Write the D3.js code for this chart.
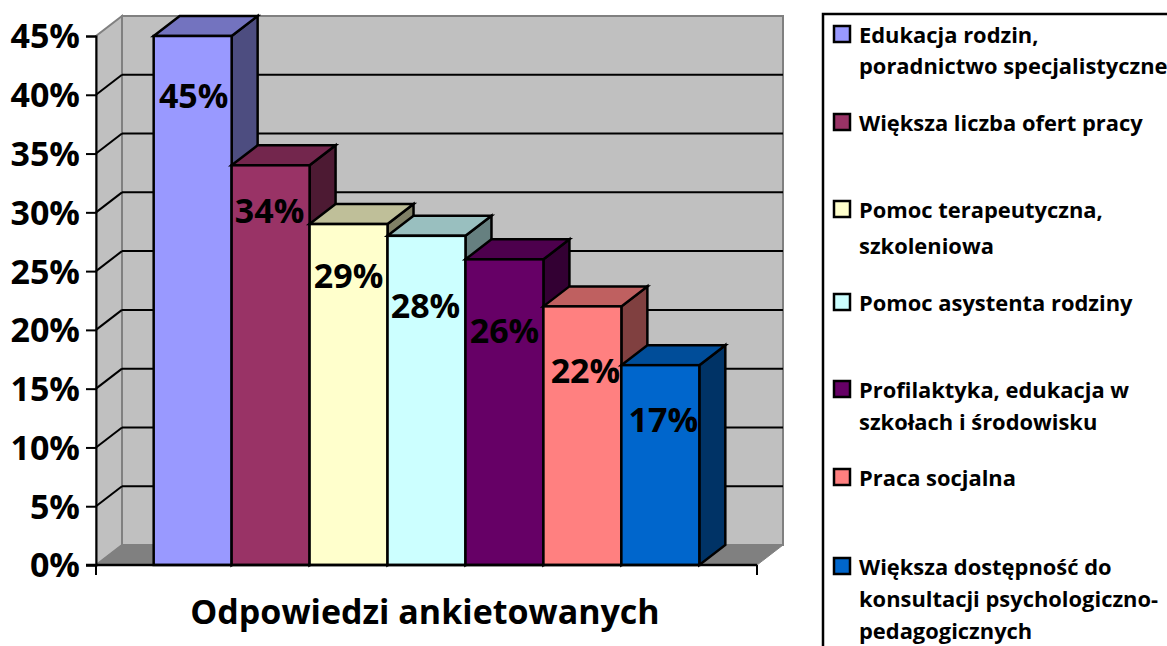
<!DOCTYPE html>
<html>
<head>
<meta charset="utf-8">
<script src="https://cdnjs.cloudflare.com/ajax/libs/d3/7.8.5/d3.min.js"></script>
<style>
html, body { margin: 0; padding: 0; background: #fff; overflow: hidden; }
text { font-family: "Open Sans", sans-serif; font-weight: 700; fill: #000; }
</style>
</head>
<body>
<div class="canvas"></div>
<script>
var categories = ["Edukacja rodzin, poradnictwo specjalistyczne", "Większa liczba ofert pracy", "Pomoc terapeutyczna, szkoleniowa", "Pomoc asystenta rodziny", "Profilaktyka, edukacja w szkołach i środowisku", "Praca socjalna", "Większa dostępność do konsultacji psychologiczno-pedagogicznych"];
var values = [45, 34, 29, 28, 26, 22, 17];
var yTicks = [0, 5, 10, 15, 20, 25, 30, 35, 40, 45];
var barColors = ["#9999FF", "#993366", "#FFFFCC", "#CCFFFF", "#660066", "#FF8080", "#0066CC"];
var legendLines = [
	["Edukacja rodzin,", "poradnictwo specjalistyczne"],
	["Większa liczba ofert pracy"],
	["Pomoc terapeutyczna,", "szkoleniowa"],
	["Pomoc asystenta rodziny"],
	["Profilaktyka, edukacja w", "szkołach i środowisku"],
	["Praca socjalna"],
	["Większa dostępność do", "konsultacji psychologiczno-", "pedagogicznych"]
];
var axisTitle = "Odpowiedzi ankietowanych";

// hand placement of the data labels, relative to bar top / bar centre
var labelDy = [59, 45, 51, 69, 71, 64, 54];
var labelDx = [1, -1, 0, -1, 0, 3, 3];
var legendY = [34, 122, 209, 302, 389, 477, 566];
var legendGap = [31, 0, 36, 0, 32, 0, 32];

var depthX = 26, depthY = 20;
var svg = d3.select(".canvas")
	.append("svg")
	.attr("width", 1167)
	.attr("height", 646)
	.style("display", "block");

var x = d3.scaleBand()
	.domain(categories)
	.range([96, 757])
	.paddingInner(0)
	.paddingOuter(0.74);

var y = d3.scaleLinear()
	.domain([0, 45])
	.range([565, 36]);

var x0 = x.range()[0], x1 = x.range()[1];
var y0 = y(0), yTop = y(45);

// back wall
svg.append("rect")
	.attr("x", x0 + depthX)
	.attr("y", yTop - depthY)
	.attr("width", x1 - x0)
	.attr("height", y0 - yTop)
	.attr("fill", "#C0C0C0")
	.attr("stroke", "#808080")
	.attr("stroke-width", 2);

// side wall
svg.append("path")
	.attr("d", d3.line()([[x0, y0], [x0, yTop], [x0 + depthX, yTop - depthY], [x0 + depthX, y0 - depthY]]) + "Z")
	.attr("fill", "#C0C0C0")
	.attr("stroke", "#808080")
	.attr("stroke-width", 2);

// floor
svg.append("path")
	.attr("d", d3.line()([[x0, y0], [x0 + depthX, y0 - depthY], [x1 + depthX, y0 - depthY], [x1, y0]]) + "Z")
	.attr("fill", "#808080")
	.attr("stroke", "#808080")
	.attr("stroke-width", 1);

// gridlines, skipping the floor and the top edge
var grid = svg.append("g");
yTicks.slice(1, -1).forEach(function(t){
	grid.append("line")
		.attr("x1", x0 + depthX)
		.attr("y1", y(t) - depthY)
		.attr("x2", x1 + depthX)
		.attr("y2", y(t) - depthY)
		.attr("stroke", "#000")
		.attr("stroke-width", 2);
	grid.append("line")
		.attr("x1", x0)
		.attr("y1", y(t))
		.attr("x2", x0 + depthX)
		.attr("y2", y(t) - depthY)
		.attr("stroke", "#000")
		.attr("stroke-width", 2);
});

// bars: left to right so each one covers the side of the one before
var bars = svg.selectAll(".bar")
	.data(values)
	.enter()
	.append("g")
	.attr("class", "bar");

bars.append("path")
	.attr("fill", function(d, i){
		var c = d3.rgb(barColors[i]);
		return d3.rgb(c.r * 0.5, c.g * 0.5, c.b * 0.5);
	})
	.attr("stroke", "#000")
	.attr("stroke-width", 2.5)
	.attr("d", function(d, i){
		var r = x(categories[i]) + x.bandwidth();
		return d3.line()([[r, y(d)], [r + depthX, y(d) - depthY], [r + depthX, y0 - depthY], [r, y0]]) + "Z";
	});

bars.append("path")
	.attr("fill", function(d, i){
		var c = d3.rgb(barColors[i]);
		return d3.rgb(c.r * 0.75, c.g * 0.75, c.b * 0.75);
	})
	.attr("stroke", "#000")
	.attr("stroke-width", 2.5)
	.attr("d", function(d, i){
		var l = x(categories[i]), r = l + x.bandwidth();
		return d3.line()([[l, y(d)], [l + depthX, y(d) - depthY], [r + depthX, y(d) - depthY], [r, y(d)]]) + "Z";
	});

bars.append("rect")
	.attr("x", function(d, i){ return x(categories[i]); })
	.attr("y", function(d){ return y(d); })
	.attr("width", x.bandwidth())
	.attr("height", function(d){ return y0 - y(d); })
	.attr("fill", function(d, i){ return barColors[i]; })
	.attr("stroke", "#000")
	.attr("stroke-width", 2.5);

// axes
var yAxis = d3.axisLeft(y)
	.tickValues(yTicks)
	.tickFormat(function(d){ return d + "%"; })
	.tickSize(10)
	.tickPadding(6);

var gy = svg.append("g")
	.attr("transform", "translate(" + x0 + ",0)")
	.call(yAxis);
gy.selectAll("path, line").attr("stroke", "#000").attr("stroke-width", 2);
gy.selectAll("text")
	.attr("font-size", "34px")
	.attr("y", 1)
	.style("font-family", "'Open Sans', sans-serif");

svg.append("line")
	.attr("x1", x0 - 10)
	.attr("y1", y0)
	.attr("x2", x1)
	.attr("y2", y0)
	.attr("stroke", "#000")
	.attr("stroke-width", 2.5);

[x0, x1].forEach(function(t){
	svg.append("line")
		.attr("x1", t)
		.attr("y1", y0)
		.attr("x2", t)
		.attr("y2", y0 + 10)
		.attr("stroke", "#000")
		.attr("stroke-width", 2);
});

// data labels
svg.selectAll(".lab")
	.data(values)
	.enter()
	.append("text")
	.attr("class", "lab")
	.attr("x", function(d, i){ return x(categories[i]) + x.bandwidth() / 2 + labelDx[i]; })
	.attr("y", function(d, i){ return y(d) + labelDy[i]; })
	.attr("text-anchor", "middle")
	.attr("dominant-baseline", "central")
	.attr("font-size", "34px")
	.text(function(d){ return d + "%"; });

svg.append("text")
	.attr("x", 425)
	.attr("y", 624)
	.attr("text-anchor", "middle")
	.attr("font-size", "34px")
	.text(axisTitle);

// legend, open on the right and bottom because it runs off the picture
svg.append("path")
	.attr("d", "M1167,14H823V646")
	.attr("fill", "none")
	.attr("stroke", "#000")
	.attr("stroke-width", 2.5);

var leg = svg.selectAll(".leg")
	.data(legendLines)
	.enter()
	.append("g")
	.attr("class", "leg");

leg.append("rect")
	.attr("x", 834)
	.attr("y", function(d, i){ return legendY[i] - 8; })
	.attr("width", 16)
	.attr("height", 16)
	.attr("fill", function(d, i){ return barColors[i]; })
	.attr("stroke", "#000")
	.attr("stroke-width", 2.5);

leg.each(function(lines, i){
	d3.select(this).selectAll("text")
		.data(lines)
		.enter()
		.append("text")
		.attr("x", 859)
		.attr("y", function(d, j){ return legendY[i] + j * legendGap[i]; })
		.attr("dominant-baseline", "central")
		.attr("font-size", "21.9px")
		.text(function(d){ return d; });
});
</script>
</body>
</html>
